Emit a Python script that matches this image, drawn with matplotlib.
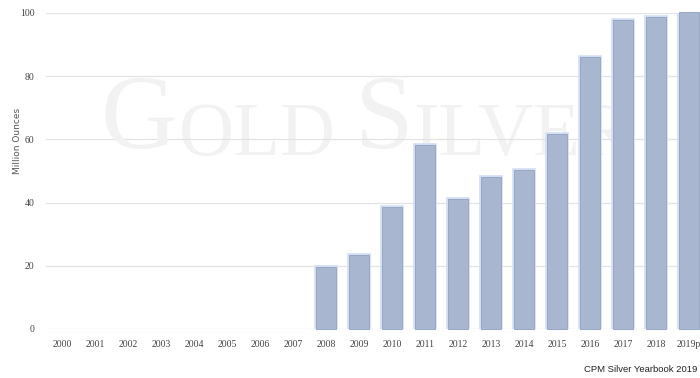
import matplotlib.pyplot as plt

# data
years = ['2000', '2001', '2002', '2003', '2004', '2005', '2006', '2007', '2008', '2009',
         '2010', '2011', '2012', '2013', '2014', '2015', '2016', '2017', '2018', '2019p']
values = [0, 0, 0, 0, 0, 0, 0, 0, 19.6, 23.4,
          38.6, 58.2, 41.1, 48.1, 50.3, 61.7, 86.2, 97.9, 98.6, 100.2]
yticks = [0, 20, 40, 60, 80, 100]

fig = plt.figure(figsize=(7, 3.78), dpi=100)
ax = fig.add_axes([45.5 / 700, 1 - 329 / 378, 660 / 700, (329 - 13) / 378])

# watermark (small caps look)
wm = dict(color='#f2f2f2', family='Liberation Serif', zorder=0)
t1 = fig.text(101 / 700, 1 - 171 / 378, 'G', fontsize=76, va='bottom', **wm)
t2 = ax.annotate('OLD', xy=(1, 0), xycoords=t1, xytext=(1, 0), textcoords='offset points',
                 va='bottom', fontsize=55, **wm)
t3 = ax.annotate('S', xy=(1, 0), xycoords=t2, xytext=(14, 0), textcoords='offset points',
                 va='bottom', fontsize=76, **wm)
ax.annotate('ILVER', xy=(1, 0), xycoords=t3, va='bottom', fontsize=55, **wm)

# only years with a value get a bar
xs = [i for i, v in enumerate(values) if v > 0]
vs = [v for v in values if v > 0]

# soft glow around the bars, then the bars themselves
ax.bar(xs, vs, width=0.6, color='#a8b6d0', edgecolor='#d3def2', linewidth=2.6,
       zorder=2)
ax.bar(xs, vs, width=0.6, color='#a8b6d0', edgecolor='#97a8c6', linewidth=0.7,
       zorder=3, clip_on=False)

ax.set_xlim(-0.5, len(years) - 0.5)
ax.set_ylim(0, 100)
ax.set_yticks(yticks)
ax.set_xticks(range(len(years)))
ax.set_xticklabels(years)
ax.grid(axis='y', color='#e3e3e3', linewidth=0.9, zorder=1)
ax.set_axisbelow(True)
ax.patch.set_alpha(0)
for s in ax.spines.values():
    s.set_visible(False)
ax.tick_params(length=0, labelsize=7, colors='#444444')
ax.tick_params(axis='y', pad=8)
ax.tick_params(axis='x', pad=8)
for lab in ax.get_xticklabels() + ax.get_yticklabels():
    lab.set_family('Liberation Serif')

fig.text(17 / 700, 1 - 141 / 378, 'Million Ounces', rotation=90, ha='center', va='center',
         fontsize=6.5, color='#555555')
fig.text(697 / 700, 1 - 369 / 378, 'CPM Silver Yearbook 2019', ha='right', va='center',
         fontsize=6.8, color='#222222', family='Liberation Sans')

fig.savefig('out.png', dpi=100)
